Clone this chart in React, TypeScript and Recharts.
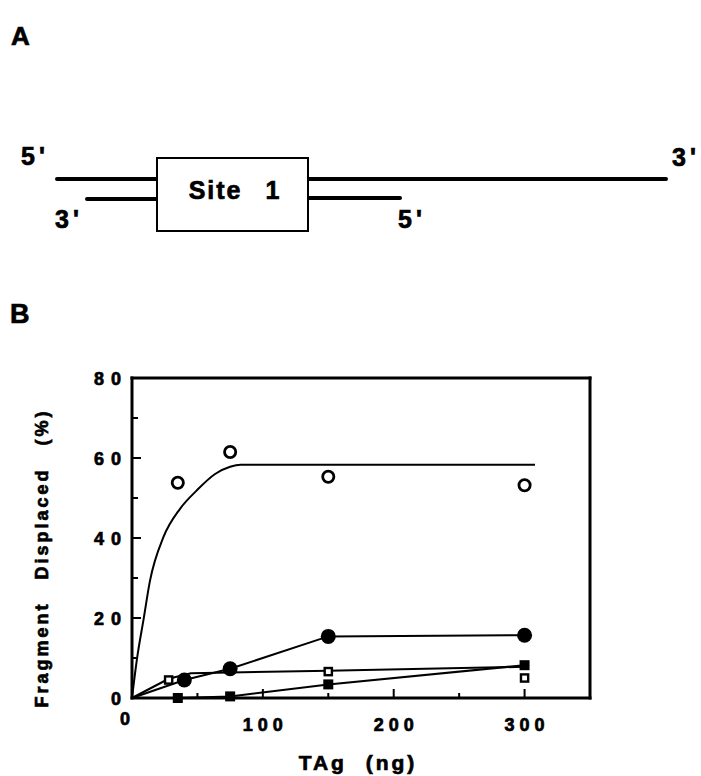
import React from "react";
import { ComposedChart, Line, Scatter, XAxis, YAxis, Label, ReferenceLine } from "recharts";

// Readings from panel B: TAg added (ng) vs. fragment displaced (%)
const openCircleTAg = [35, 75, 150, 300];
const openCirclePct = [53.8, 61.5, 55.3, 53.2];
const openCircleFitTAg = [0, 4, 8.7, 13.8, 24, 36.7, 49.5, 63.5, 75, 83, 308];
const openCircleFitPct = [0, 10.2, 19.4, 29.4, 40.2, 47.3, 51.9, 56, 57.8, 58.3, 58.3];

const solidCircleTAg = [40, 75, 150, 300];
const solidCirclePct = [4.5, 7.3, 15.4, 15.7];

const openSquareTAg = [28, 150, 300];
const openSquarePct = [4.5, 6.6, 5.0];
const openSquareFitTAg = [0, 28, 45, 150, 300];
const openSquareFitPct = [0, 4.8, 6.2, 6.8, 7.8];

const solidSquareTAg = [35, 75, 150, 300];
const solidSquarePct = [0, 0.4, 3.4, 8.2];

const xTicks = [0, 50, 100, 150, 200, 250, 300];
const xLabelled = [0, 100, 200, 300];
const yTicks = [0, 10, 20, 30, 40, 50, 60, 70, 80];
const yLabelled = [0, 20, 40, 60, 80];

const FONT = "'Liberation Sans', Arial, Helvetica, sans-serif";

const toPoints = (xs: number[], ys: number[]) => xs.map((x, i) => ({ x, y: ys[i] }));
const fromOrigin = (xs: number[], ys: number[]) => [{ x: 0, y: 0 }, ...toPoints(xs, ys)];

const Y_MARGIN = 12;
const X_LS = 5;
const Y_LS = 7;

// heavy print look
const ink = { fill: "#000", stroke: "#000", strokeWidth: 0.7, fontFamily: FONT, fontWeight: "bold" as const };

function XTick(props: any) {
  const { x, y, payload } = props;
  const v = payload.value;
  const major = v % 100 === 0;
  const len = major ? 9 : 5;
  return (
    <g>
      {v > 0 && <line x1={x} y1={y} x2={x} y2={y - len} stroke="#000" strokeWidth={2} />}
      {xLabelled.includes(v) && (
        <text
          x={v === 0 ? x - 7 + X_LS / 2 : x + X_LS / 2}
          y={v === 0 ? y + 27 : y + 33}
          textAnchor="middle"
          fontSize={18}
          letterSpacing={X_LS}
          {...ink}
        >
          {v}
        </text>
      )}
    </g>
  );
}

function YTick(props: any) {
  const { x, y, payload } = props;
  const v = payload.value;
  const axisX = x + Y_MARGIN;
  const len = v % 20 === 0 ? 9 : 6;
  return (
    <g>
      {v > 0 && v < 80 && <line x1={axisX} y1={y} x2={axisX + len} y2={y} stroke="#000" strokeWidth={2} />}
      {yLabelled.includes(v) && (
        <text x={x + Y_LS + 1} y={y + 7} textAnchor="end" fontSize={18} letterSpacing={Y_LS} {...ink}>
          {v}
        </text>
      )}
    </g>
  );
}

const OpenCircle = (p: any) => (
  <circle cx={p.cx} cy={p.cy} r={5.6} fill="#fff" stroke="#000" strokeWidth={2.8} />
);
const SolidCircle = (p: any) => <circle cx={p.cx} cy={p.cy} r={7.5} fill="#000" />;
const OpenSquare = (p: any) => (
  <rect x={p.cx - 3.6} y={p.cy - 3.6} width={7.2} height={7.2} fill="#fff" stroke="#000" strokeWidth={2.4} />
);
const SolidSquare = (p: any) => <rect x={p.cx - 5} y={p.cy - 5} width={10} height={10} fill="#000" />;

const frame = { stroke: "#000", strokeWidth: 3, strokeLinecap: "square" as const };
const curve = { stroke: "#000", strokeWidth: 2, dot: false, activeDot: false, isAnimationActive: false };

function Diagram() {
  const txt = { ...ink, fontSize: 25, letterSpacing: 4 };
  return (
    <svg width={701} height={340} style={{ position: "absolute", left: 0, top: 0 }}>
      <text x={11} y={45} {...txt} fontSize={26} letterSpacing={0}>A</text>
      <text x={10} y={323} {...txt} fontSize={27} letterSpacing={0}>B</text>

      <line x1={57} y1={179} x2={666} y2={179} stroke="#000" strokeWidth={4} strokeLinecap="round" />
      <line x1={87} y1={199} x2={157} y2={199} stroke="#000" strokeWidth={4} strokeLinecap="round" />
      <line x1={308} y1={198} x2={400} y2={198} stroke="#000" strokeWidth={4} strokeLinecap="round" />
      <rect x={157} y={158} width={151} height={73} fill="#fff" stroke="#000" strokeWidth={2} />
      <text x={235} y={199} textAnchor="middle" {...txt} fontSize={25} letterSpacing={2} wordSpacing={14}>
        Site 1
      </text>

      <text x={21} y={165} {...txt}>5'</text>
      <text x={672} y={166} {...txt}>3'</text>
      <text x={55} y={228} {...txt}>3'</text>
      <text x={398} y={228} {...txt}>5'</text>
    </svg>
  );
}

export default function App() {
  return (
    <div style={{ position: "absolute", left: 0, top: 0, width: 701, height: 776, background: "#fff" }}>
      <Diagram />
      <div style={{ position: "absolute", left: 0, top: 290 }}>
        <ComposedChart width={701} height={486} margin={{ top: 88, right: 111, bottom: 28, left: 72 }}>
          <XAxis
            dataKey="x"
            type="number"
            domain={[0, 350]}
            ticks={xTicks}
            interval={0}
            tick={<XTick />}
            tickLine={false}
            tickSize={0}
            tickMargin={0}
            height={50}
            axisLine={frame}
          >
            <Label
              value="TAg (ng)"
              position="center"
              dy={40}
              dx={-3}
              fontSize={21}
              letterSpacing={3}
              wordSpacing={10}
              {...ink}
            />
          </XAxis>
          <YAxis
            dataKey="y"
            type="number"
            domain={[0, 80]}
            ticks={yTicks}
            interval={0}
            tick={<YTick />}
            tickLine={false}
            tickSize={0}
            tickMargin={Y_MARGIN}
            width={60}
            axisLine={frame}
          >
            <Label
              value="Fragment Displaced (%)"
              position="center"
              angle={-90}
              dx={-60}
              dy={20}
              fontSize={18}
              letterSpacing={3}
              wordSpacing={14}
              {...ink}
            />
          </YAxis>

          <ReferenceLine y={80} {...frame} />
          <ReferenceLine x={350} {...frame} />

          <Line data={toPoints(openCircleFitTAg, openCircleFitPct)} dataKey="y" type="monotone" {...curve} />
          <Line data={fromOrigin(solidCircleTAg, solidCirclePct)} dataKey="y" type="linear" {...curve} />
          <Line data={toPoints(openSquareFitTAg, openSquareFitPct)} dataKey="y" type="linear" {...curve} />
          <Line data={fromOrigin(solidSquareTAg, solidSquarePct)} dataKey="y" type="linear" {...curve} />

          <Scatter data={toPoints(openCircleTAg, openCirclePct)} dataKey="y" shape={<OpenCircle />} isAnimationActive={false} />
          <Scatter data={toPoints(solidCircleTAg, solidCirclePct)} dataKey="y" shape={<SolidCircle />} isAnimationActive={false} />
          <Scatter data={toPoints(openSquareTAg, openSquarePct)} dataKey="y" shape={<OpenSquare />} isAnimationActive={false} />
          <Scatter data={toPoints(solidSquareTAg, solidSquarePct)} dataKey="y" shape={<SolidSquare />} isAnimationActive={false} />
        </ComposedChart>
      </div>
    </div>
  );
}
